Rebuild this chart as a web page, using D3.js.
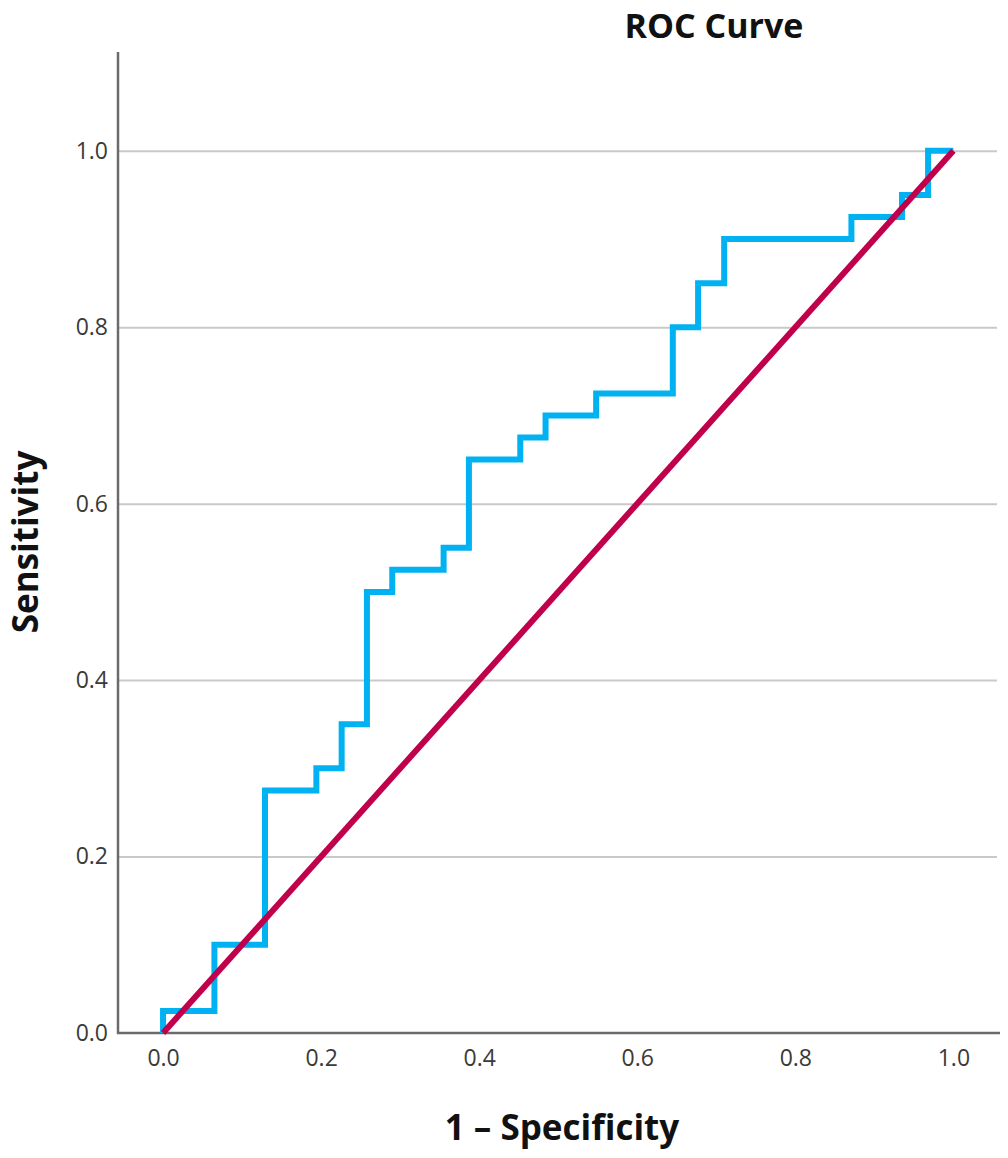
<!DOCTYPE html>
<html>
<head>
<meta charset="utf-8">
<script src="https://cdn.jsdelivr.net/npm/d3@7"></script>
<style>
    body{margin:0;background:#fff;}
    svg{display:block;}
</style>
</head>
<body>
<div class="chart"></div>
<script>
// step corners of the ROC curve (1 - specificity, sensitivity)
var fpr = [0, 0.065, 0.129, 0.194, 0.226, 0.258, 0.290, 0.355, 0.387, 0.452,
    0.484, 0.548, 0.645, 0.677, 0.710, 0.871, 0.935, 0.968, 1.0];
var tpr = [0, 0.025, 0.1, 0.275, 0.3, 0.35, 0.5, 0.525, 0.55, 0.65,
    0.675, 0.7, 0.725, 0.8, 0.85, 0.9, 0.925, 0.95, 1.0];
// reference line
var diag = [[0, 0], [1, 1]];
var tick_values = [0, 0.2, 0.4, 0.6, 0.8, 1.0];
var grid_values = [0.2, 0.4, 0.6, 0.8, 1.0];

var W = 1008, H = 1158;
var svg = d3.select("div.chart")
    .append("svg")
    .attr("width", W)
    .attr("height", H);

var x = d3.scaleLinear().domain([-0.057, 1.059]).range([118, 1000]);
var y = d3.scaleLinear().domain([0, 1.112]).range([1033, 52]);

// grid lines
svg.append("g")
    .attr("transform", "translate(118,0)")
    .call(d3.axisLeft(y).tickValues(grid_values).tickSize(-879).tickFormat(""))
    .call(function(g){
        g.select(".domain").remove();
        g.selectAll("line").attr("stroke", "#c9c9c9").attr("stroke-width", 2);
    });

var tick_font = function(g){
    g.selectAll("text")
        .attr("font-family", "Open Sans")
        .attr("font-size", "23px")
        .attr("fill", "#3a3a3a");
};

svg.append("g")
    .attr("transform", "translate(0,1033)")
    .call(d3.axisBottom(x).tickValues(tick_values).tickSize(0).tickPadding(17)
        .tickFormat(d3.format(".1f")))
    .call(tick_font)
    .call(function(g){ g.select(".domain").remove(); });

svg.append("g")
    .attr("transform", "translate(118,0)")
    .call(d3.axisLeft(y).tickValues(tick_values).tickSize(0).tickPadding(10)
        .tickFormat(d3.format(".1f")))
    .call(tick_font)
    .call(function(g){ g.select(".domain").remove(); });

// axis lines
svg.append("line")
    .attr("x1", 118).attr("x2", 118)
    .attr("y1", y(1.112)).attr("y2", 1034)
    .attr("stroke", "#6b6b6b").attr("stroke-width", 2.5);
svg.append("line")
    .attr("x1", 117).attr("x2", 1000)
    .attr("y1", 1033).attr("y2", 1033)
    .attr("stroke", "#6b6b6b").attr("stroke-width", 2.5);

var pts = fpr.map(function(d, i){ return [d, tpr[i]]; });

svg.append("path")
    .datum(pts)
    .attr("fill", "none")
    .attr("stroke", "#00b2f2")
    .attr("stroke-width", 6)
    .attr("stroke-linejoin", "miter")
    .attr("d", d3.line()
        .x(function(d){ return x(d[0]); })
        .y(function(d){ return y(d[1]); })
        .curve(d3.curveStepBefore));

svg.append("path")
    .datum(diag)
    .attr("fill", "none")
    .attr("stroke", "#c1004b")
    .attr("stroke-width", 6)
    .attr("d", d3.line()
        .x(function(d){ return x(d[0]); })
        .y(function(d){ return y(d[1]); }));

svg.append("text")
    .text("ROC Curve")
    .attr("x", 714)
    .attr("y", 38)
    .attr("text-anchor", "middle")
    .attr("font-family", "Open Sans")
    .attr("font-weight", "bold")
    .attr("font-size", "34px")
    .attr("fill", "#111");

svg.append("text")
    .text("1 \u2013 Specificity")
    .attr("x", 562)
    .attr("y", 1140)
    .attr("text-anchor", "middle")
    .attr("font-family", "Open Sans")
    .attr("font-weight", "bold")
    .attr("font-size", "35px")
    .attr("fill", "#111");

svg.append("text")
    .text("Sensitivity")
    .attr("transform", "translate(38,542) rotate(-90)")
    .attr("text-anchor", "middle")
    .attr("font-family", "Open Sans")
    .attr("font-weight", "bold")
    .attr("font-size", "35px")
    .attr("fill", "#111");
</script>
</body>
</html>
